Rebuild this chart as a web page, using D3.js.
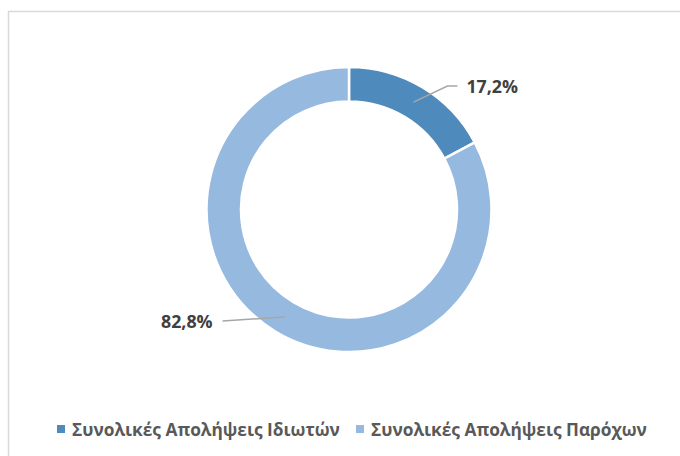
<!DOCTYPE html>
<html>
<head>
<meta charset="utf-8">
<script src="https://cdn.jsdelivr.net/npm/d3@7"></script>
<style>
  body { margin: 0; background: #fff; }
  svg { display: block; }
</style>
</head>
<body>
<script>
(function(){
  var width = 680;
  var height = 456;

  var categories = ["Συνολικές Απολήψεις Ιδιωτών", "Συνολικές Απολήψεις Παρόχων"];
  var values = [17.2, 82.8];
  var valueLabels = ["17,2%", "82,8%"];
  var colors = ["#4f8abd", "#96b9e0"];

  var cx = 349, cy = 209.5;
  var outerR = 142.5, innerR = 108;
  var font = "'Open Sans', 'Noto Sans', sans-serif";

  var svg = d3.select("body").append("svg")
    .attr("width", width)
    .attr("height", height);

  // chart frame
  svg.append("rect")
    .attr("x", 8.5).attr("y", 11.5)
    .attr("width", 700).attr("height", 500)
    .attr("fill", "#fff")
    .attr("stroke", "#d9d9d9")
    .attr("stroke-width", 1.5);

  var pie = d3.pie().sort(null).value(d => d);
  var arcs = pie(values);

  var arc = d3.arc().innerRadius(innerR).outerRadius(outerR);
  var midArc = d3.arc().innerRadius((innerR + outerR) / 2).outerRadius((innerR + outerR) / 2);

  var g = svg.append("g").attr("transform", "translate(" + cx + "," + cy + ")");

  g.selectAll("path.slice")
    .data(arcs)
    .enter().append("path")
    .attr("class", "slice")
    .attr("d", arc)
    .attr("fill", (d, i) => colors[i])
    .attr("stroke", "#fff")
    .attr("stroke-width", 2.5);

  // leader lines + labels
  function leader(d, i) {
    var c = midArc.centroid(d);
    if (i === 0) {
      return [c, [c[0] + 34, c[1] - 16], [c[0] + 44, c[1] - 16]];
    }
    return [c, [c[0] - 62, c[1] + 4]];
  }

  g.selectAll("polyline.leader")
    .data(arcs)
    .enter().append("polyline")
    .attr("class", "leader")
    .attr("points", (d, i) => leader(d, i).map(p => p.join(",")).join(" "))
    .attr("fill", "none")
    .attr("stroke", "#a6a6a6")
    .attr("stroke-width", 1.5);

  g.selectAll("text.lbl")
    .data(arcs)
    .enter().append("text")
    .attr("class", "lbl")
    .attr("x", (d, i) => {
      var pts = leader(d, i);
      var last = pts[pts.length - 1];
      return i === 0 ? last[0] + 9 : last[0] - 10;
    })
    .attr("y", (d, i) => {
      var pts = leader(d, i);
      return pts[pts.length - 1][1] + 7;
    })
    .attr("text-anchor", (d, i) => i === 0 ? "start" : "end")
    .attr("font-family", font)
    .attr("font-weight", "bold")
    .attr("font-size", 17.8)
    .attr("fill", "#404040")
    .text((d, i) => valueLabels[i]);

  // legend
  var legendX = [57, 356];
  var legend = svg.selectAll("g.legend")
    .data(categories)
    .enter().append("g")
    .attr("class", "legend")
    .attr("transform", (d, i) => "translate(" + legendX[i] + ",425)");

  legend.append("rect")
    .attr("width", 8).attr("height", 8)
    .attr("fill", (d, i) => colors[i]);

  legend.append("text")
    .attr("x", 15).attr("y", 10.5)
    .attr("font-family", font)
    .attr("font-weight", "bold")
    .attr("font-size", 17.3)
    .attr("fill", "#595959")
    .text(d => d);
})();
</script>
</body>
</html>
